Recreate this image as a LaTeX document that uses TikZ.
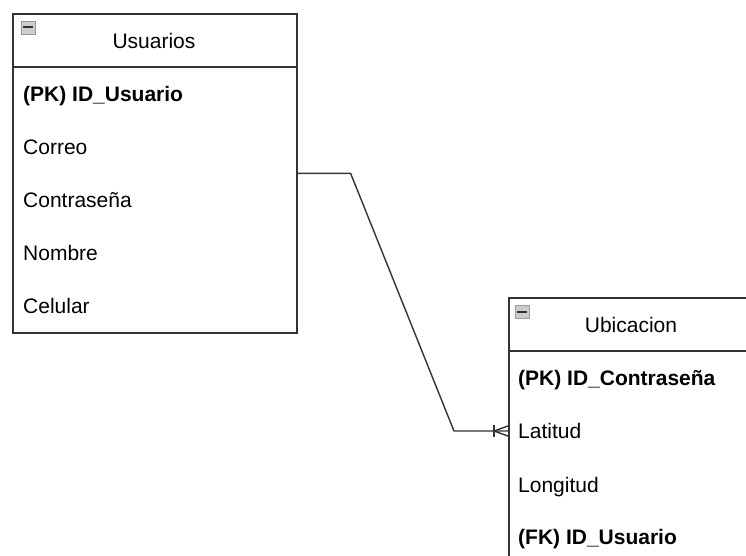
\documentclass[tikz,border=0pt]{standalone}
\usepackage{fontspec}
\setmainfont{Liberation Sans}
\usetikzlibrary{positioning}
\definecolor{edgeGray}{rgb}{0.2,0.2,0.2}
\definecolor{iconGray}{rgb}{0.8,0.8,0.82}
\definecolor{iconEdge}{rgb}{0.6,0.6,0.62}

\tikzset{
    tablehead/.style={draw=edgeGray,line width=1.6bp,fill=white,anchor=north west,
        minimum height=53bp,inner sep=0pt},
    tablebody/.style={draw=edgeGray,line width=1.6bp,anchor=north west,inner sep=0pt},
    title/.style={font=\fontsize{21bp}{24bp}\selectfont},
    field/.style={anchor=west,inner sep=0pt,text height=15bp,text depth=4bp,
        font=\fontsize{21bp}{24bp}\selectfont},
    keyfield/.style={field,font=\fontsize{21bp}{24bp}\selectfont\bfseries},
}

\begin{document}
\begin{tikzpicture}[x=1bp,y=-1bp]
    \clip (0,0) rectangle (746,556);

    % draw table Usuarios
    \node[tablebody,minimum width=284bp,minimum height=319bp] (usuarios) at (12,13) {};
    \node[tablehead,minimum width=284bp] (usuariosHead) at (12,13) {};
    \node[title] at (154,41) {Usuarios};
    \draw[iconEdge,fill=iconGray] (21,21) rectangle (35,34);
    \draw[edgeGray,line width=2bp] (23,27.5) -- (33,27.5);

    \node[keyfield] (idUsuario) at (23,96) {(PK) ID\_Usuario};
    \node[field] (correo) at (23,149) {Correo};
    \node[field] (contrasena) at (23,202) {Contraseña};
    \node[field] (nombre) at (23,255) {Nombre};
    \node[field] (celular) at (23,308) {Celular};

    % draw table Ubicacion
    \node[tablebody,minimum width=246bp,minimum height=300bp] (ubicacion) at (508,297) {};
    \node[tablehead,minimum width=246bp] (ubicacionHead) at (508,297) {};
    \node[title] at (631,325) {Ubicacion};
    \draw[iconEdge,fill=iconGray] (515,305) rectangle (529,318);
    \draw[edgeGray,line width=2bp] (517,311.5) -- (527,311.5);

    \node[keyfield] (idContrasena) at (518,380) {(PK) ID\_Contraseña};
    \node[field] (latitud) at (518,433) {Latitud};
    \node[field] (longitud) at (518,487) {Longitud};
    \node[keyfield] (fkUsuario) at (518,539) {(FK) ID\_Usuario};

    % draw relation
    \coordinate (latitudEnd) at (508,431);
    \draw[edgeGray,line width=1.4bp] (usuarios.east) -- ++(53,0) -- ([xshift=-54bp]latitudEnd) -- (latitudEnd);
    \draw[edgeGray,line width=1.4bp] ([xshift=-14bp,yshift=-6bp]latitudEnd) -- ([xshift=-14bp,yshift=6bp]latitudEnd);
    \draw[edgeGray,line width=1.4bp] ([yshift=-5bp]latitudEnd) -- ([xshift=-14bp]latitudEnd) -- ([yshift=5bp]latitudEnd);
\end{tikzpicture}
\end{document}
